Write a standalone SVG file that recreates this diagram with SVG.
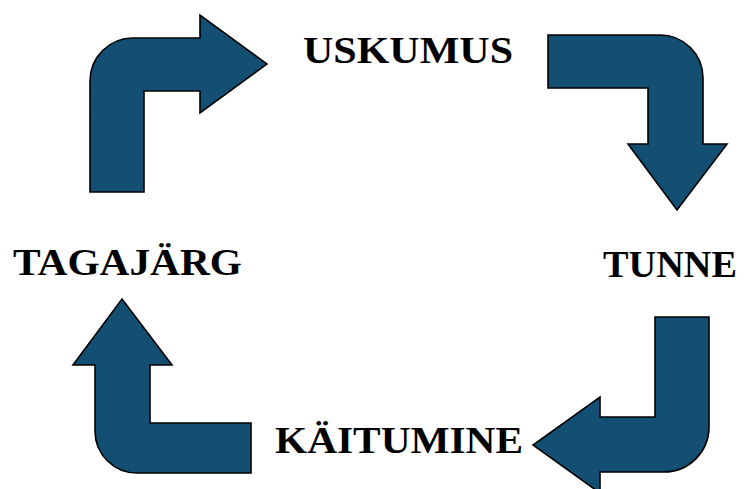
<svg xmlns="http://www.w3.org/2000/svg" width="747" height="489" viewBox="0 0 747 489">
<style>
.arr{fill:#134f72;stroke:#000;stroke-width:1.6;stroke-linejoin:miter}
.lbl{font-family:"Liberation Serif","Times New Roman",serif;font-weight:bold;font-size:38px;fill:#000}
</style>
<rect width="747" height="489" fill="#fff"/>
<g id="connectors">
<path class="arr" d="M90,192 L90,81 A43,43 0 0 1 133,38 L200,38 L200,15 L267,64 L200,113 L200,91 L144,91 L144,192 Z"/>
<path class="arr" d="M548,35 L660,35 A43,43 0 0 1 703,78 L703,144 L727,144 L677,210 L628,144 L648,144 L648,88 L548,88 Z"/>
<path class="arr" d="M655,317 L709,317 L709,427 A45,45 0 0 1 664,472 L600,472 L600,493 L533,445 L600,397 L600,417 L655,417 Z"/>
<path class="arr" d="M122,299 L172,365 L150,365 L150,423 L251,423 L251,473 L137,473 A42,42 0 0 1 95,431 L95,365 L73,365 Z"/>
</g>
<g id="uskumus"><text class="lbl" x="303" y="63" textLength="210" lengthAdjust="spacingAndGlyphs">USKUMUS</text></g>
<g id="tunne"><text class="lbl" x="603" y="277" textLength="134" lengthAdjust="spacingAndGlyphs">TUNNE</text></g>
<g id="kaitumine"><text class="lbl" x="275" y="453" textLength="248" lengthAdjust="spacingAndGlyphs">KÄITUMINE</text></g>
<g id="tagajarg"><text class="lbl" x="13" y="275" textLength="229" lengthAdjust="spacingAndGlyphs">TAGAJÄRG</text></g>
</svg>
